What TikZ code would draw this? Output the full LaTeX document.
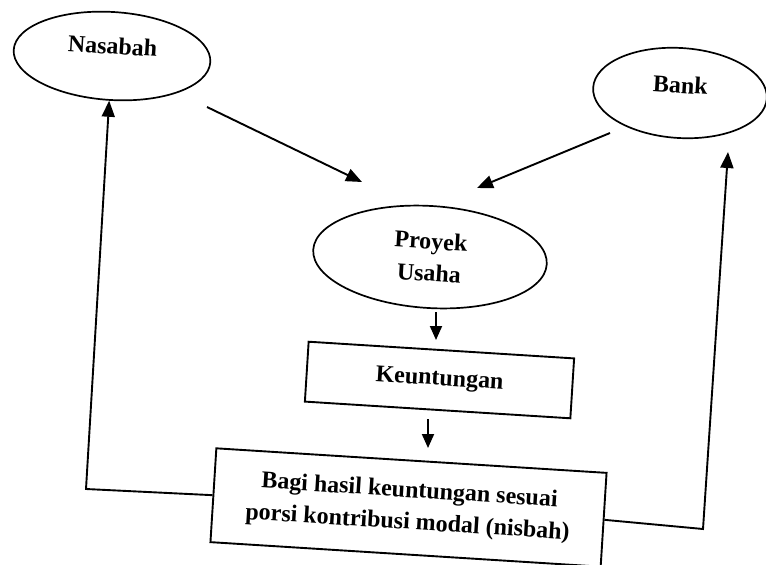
\documentclass[tikz,border=0pt]{standalone}
\usepackage{fontspec}
\setmainfont{Liberation Serif}
\usetikzlibrary{shapes.geometric,arrows.meta}
\begin{document}
\begin{tikzpicture}[x=1pt,y=-1pt,
  every node/.style={font=\bfseries\fontsize{24}{32}\selectfont, rotate=-3.6, inner sep=0pt},
  oval/.style={draw, ellipse, line width=1.7pt},
  box/.style={draw, rectangle, line width=1.9pt},
  conn/.style={line width=1.9pt, -{Triangle[length=16pt,width=13pt]}},
  small/.style={line width=1.9pt, -{Triangle[length=14pt,width=12pt]}}]
\useasboundingbox (0,0) rectangle (766,565);
% nodes
\node[oval, minimum width=197pt, minimum height=88pt, text height=10pt, text depth=14pt] (nas) at (112,56) {Nasabah};
\node[oval, minimum width=174pt, minimum height=90pt, text height=12pt, text depth=12pt] (bank) at (680,93) {Bank};
\node[oval, minimum width=234pt, minimum height=102pt, align=center] (pro) at (430,257) {Proyek\\Usaha};
\node[box, minimum width=266pt, minimum height=60pt] (keu) at (439.5,380) {Keuntungan};
\node[box, minimum width=391pt, minimum height=94pt, align=center] (bagi) at (408.5,507.5) {Bagi hasil keuntungan sesuai\\porsi kontribusi modal (nisbah)};
% free ends of connectors
\coordinate (nasout) at (207,107);
\coordinate (proinl) at (362,182);
\coordinate (bankout) at (610,133);
\coordinate (proinr) at (477,188);
\coordinate (a1s) at (436,312);
\coordinate (a1e) at (436,340);
\coordinate (a2s) at (428,419);
\coordinate (a2e) at (428,448);
\coordinate (cl) at (86,489);
\coordinate (cr) at (703,529);
\coordinate (banktip) at (728,152);
% connectors
\draw[conn] (nasout) -- (proinl);
\draw[conn] (bankout) -- (proinr);
\draw[small] (a1s) -- (a1e);
\draw[small] (a2s) -- (a2e);
\draw[conn] (bagi.west) -- (cl) -- (nas.south);
\draw[conn] (bagi.east) -- (cr) -- (banktip);
\end{tikzpicture}
\end{document}
